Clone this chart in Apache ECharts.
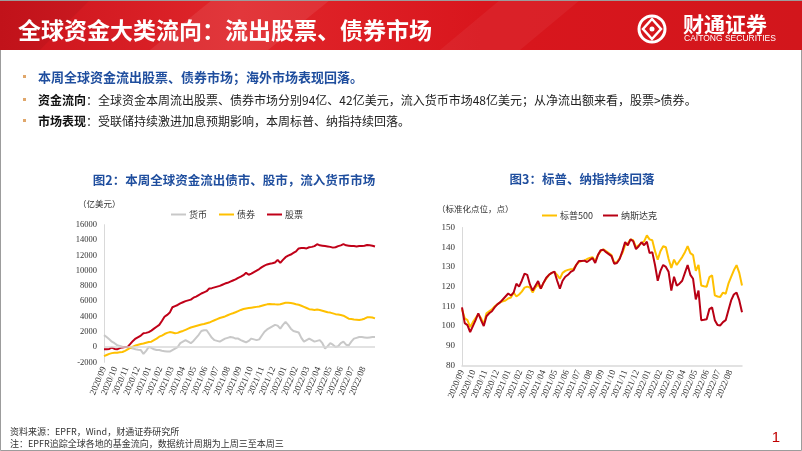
<!DOCTYPE html>
<html>
<head>
<meta charset="utf-8">
<script src="https://cdn.jsdelivr.net/npm/echarts@6/dist/echarts.min.js"></script>
<style>
html,body{margin:0;padding:0;background:#fff;}
#c{width:802px;height:451px;}
</style>
</head>
<body>
<div id="c"></div>
<script>
// ---------- data ----------
const months = ['2020/09','2020/10','2020/11','2020/12','2021/01','2021/02','2021/03','2021/04','2021/05','2021/06','2021/07','2021/08','2021/09','2021/10','2021/11','2021/12','2022/01','2022/02','2022/03','2022/04','2022/05','2022/06','2022/07','2022/08'];

// Figure 2: cumulative flows (亿美元), weekly
const flowNames = ['货币','债券','股票'];
const moneyFlow = [1560,1300,1000,700,500,250,150,50,0,-50,
-100,-200,-300,-350,-400,-900,-500,0,-100,-300,
-400,-400,-500,-550,-600,-600,-400,-200,0,500,
700,900,700,500,800,1200,1600,2100,2200,2200,
1700,1200,900,800,700,900,1100,1200,1300,1250,
1100,1100,900,750,600,800,1100,1000,900,1000,
1500,2000,2300,2500,2700,2900,2800,2400,2900,3300,
2900,2400,2100,2000,1900,1200,700,900,1100,900,
700,800,900,500,-200,100,500,300,0,100,
500,700,300,200,700,1100,1200,1300,1300,1250,
1200,1250,1300,1300];
const bondFlow = [-1200,-1050,-900,-800,-750,-750,-700,-650,-500,-300,
-100,50,200,300,400,450,550,650,700,900,
1100,1350,1500,1700,1850,1950,1900,1800,1850,2000,
2100,2250,2400,2550,2650,2750,2850,2950,3000,3100,
3200,3350,3500,3650,3800,3900,4000,4150,4300,4420,
4550,4700,4850,4970,5050,5100,5150,5200,5250,5300,
5400,5500,5580,5620,5600,5580,5570,5600,5700,5780,
5800,5750,5700,5600,5520,5400,5250,5100,4950,4900,
4850,4900,4840,4750,4650,4550,4500,4400,4300,4250,
4180,4100,3900,3700,3650,3600,3580,3530,3600,3700,
3880,3900,3850,3750];
const equityFlow = [-280,-300,-250,-80,-250,-300,-150,-50,0,20,
400,800,1100,1300,1500,1800,1850,1950,2150,2400,
2650,2900,3400,3950,4200,4500,5200,5350,5500,5700,
5850,6000,6100,6200,6450,6600,6800,7000,7150,7300,
7650,7700,7800,7900,8000,8150,8300,8400,8550,8700,
8850,9050,9200,9400,9700,9450,9600,9800,10000,10200,
10450,10650,10800,10900,10950,11050,11400,11000,11400,11750,
11950,12100,12300,12500,12900,12950,12950,12900,13050,13100,
13200,13450,13300,13250,13200,13150,13100,13000,13050,13200,
13300,13450,13300,13250,13200,13200,13150,13200,13200,13250,
13350,13300,13250,13150];
const flowTicks = [-2000,0,2000,4000,6000,8000,10000,12000,14000,16000];

// Figure 3: normalized index levels, weekly
const indexNames = ['标普500','纳斯达克'];
const spx = [108.5,104,103,99.5,102,104,106,104,101,106.5,
107.5,108.5,110,111,112,112.5,113,114,114.5,117,
115,116,117.5,119.5,120,119.6,117,119.5,121,119,
122,124,126,127,127.5,126,124,127,128,128.5,
128.8,129,131,132.5,133,133.2,134,134.5,135,133,
136,138,139,138,137,136,132,132.5,134.5,137,
141,142,144,143.5,140,141,142,143,146,144,
143.5,138,133.7,138,140.5,140,134,129.5,133.7,131,
133,135,137.5,140.5,137,136,128,131,120.6,120.2,
120,124.8,125.7,115.6,115,114.8,117,116.4,121.5,125,
128.3,130.9,127,120.6];
const ndx = [109.5,101.5,100.5,96.9,100,103,106.5,103,100,105,
106.5,107.5,109.5,111,112,113.5,115,116.5,115.5,117,
121.5,120,123,126.6,126,121,118,120.5,122.8,119,
122,124.5,126,127,127.6,123,119,123,125,126,
127.5,128.2,131,133,133,133.2,132.5,133.5,134.5,132,
136,138.5,138.7,137.5,136.5,135.5,131.6,132,134,138,
142.6,141,144,143,139,140.5,142.5,141,142.8,137,
137.5,131,123,128,131,130,127.5,118,125,120.5,
121.5,123,127,131,126,124,113.5,118,103,103.2,
103.5,108.6,109.5,103,100.5,100.3,102,103,108,113,
116,117,113,107];

// ---------- styles ----------
const CJK = "'Noto Sans CJK SC','Noto Sans',sans-serif";
const SERIF = "'Liberation Serif','DejaVu Serif',serif";
const BLUE = '#1F4E9E';
const C_GRAY = '#C8C8C8', C_YEL = '#FFC000', C_RED = '#C00018', C_RED2 = '#B80014';
const axisGray = '#D9D9D9';

const toXY = arr => arr.map((v, i) => [i, v]);
const monthCats = months.concat(['']);

function monthAxis(gridIndex, showLine) {
  return {
    type: 'category', gridIndex, data: monthCats, boundaryGap: false,
    position: 'bottom',
    axisLine: { show: showLine, onZero: false, lineStyle: { color: axisGray, width: 1.5 } },
    axisTick: { show: false },
    splitLine: { show: false },
    axisLabel: { interval: 0, rotate: 67, margin: 5, fontSize: 9, fontFamily: SERIF, color: '#333' }
  };
}
function weekAxis(gridIndex, n) {
  return {
    type: 'value', gridIndex, min: 0, max: n - 1, position: 'bottom', show: false,
    axisLine: { show: false, onZero: false }
  };
}
function valAxis(gridIndex, min, max, interval, fs) {
  return {
    type: 'value', gridIndex, min, max, interval,
    axisLine: { show: true, onZero: false, lineStyle: { color: axisGray, width: 1 } },
    axisTick: { show: false }, splitLine: { show: false },
    axisLabel: { margin: 7, fontSize: fs, fontFamily: SERIF, color: '#333', formatter: v => String(v),
      showMaxLabel: true, showMinLabel: true, hideOverlap: false }
  };
}
function lineSeries(name, data, color, xi, yi, z) {
  return {
    type: 'line', name, data: toXY(data), xAxisIndex: xi, yAxisIndex: yi,
    showSymbol: false, symbol: 'none', smooth: false, z,
    lineStyle: { color, width: 2 }, itemStyle: { color }, silent: true, animation: false
  };
}

const chart = echarts.init(document.getElementById('c'), null, { renderer: 'canvas' });

const graphics = [
  { type: 'rect', z: -20, shape: { x: 0.5, y: 0.5, width: 801, height: 450 }, style: { fill: '#fff', stroke: '#9C9C9C', lineWidth: 1 } },
  { type: 'rect', z: -19, shape: { x: 0, y: 0, width: 802, height: 50 },
    style: { fill: new echarts.graphic.LinearGradient(0, 0, 1, 0, [
      { offset: 0, color: '#CC141C' }, { offset: 0.3, color: '#E0262B' }, { offset: 0.6, color: '#D9161D' }, { offset: 1, color: '#D2161C' }]) } },
  { type: 'polygon', z: -18, shape: { points: [[150, 50], [212, 0], [330, 0], [268, 50]] }, style: { fill: 'rgba(255,255,255,0.08)' } },
  { type: 'polygon', z: -18, shape: { points: [[0, 50], [0, 0], [90, 0], [40, 50]] }, style: { fill: 'rgba(0,0,0,0.05)' } },
  { type: 'polygon', z: -18, shape: { points: [[440, 50], [500, 0], [580, 0], [520, 50]] }, style: { fill: 'rgba(255,255,255,0.05)' } },
  { type: 'line', z: -18, shape: { x1: 0, y1: 0.5, x2: 802, y2: 0.5 }, style: { stroke: '#9C9C9C', lineWidth: 1 } },
  { type: 'text', style: { x: 18, y: 30, text: '全球资金大类流向：流出股票、债券市场', fill: '#fff', fontSize: 23, fontWeight: 'bold', fontFamily: CJK, verticalAlign: 'middle' } },
  // logo
  { type: 'circle', shape: { cx: 652, cy: 29, r: 13 }, style: { fill: 'none', stroke: '#fff', lineWidth: 3 } },
  { type: 'polygon', shape: { points: [[652, 19], [661, 29], [652, 39], [643, 29]] }, style: { fill: 'none', stroke: '#fff', lineWidth: 2.5 } },
  { type: 'circle', shape: { cx: 652, cy: 29, r: 2.5 }, style: { fill: '#fff' } },
  { type: 'text', style: { x: 683, y: 24, text: '财通证券', fill: '#fff', fontSize: 21, fontWeight: 'bold', fontFamily: CJK, verticalAlign: 'middle' } },
  { type: 'text', style: { x: 684, y: 39, text: 'CAITONG SECURITIES', fill: '#fff', fontSize: 8.5, fontFamily: "'Liberation Sans',sans-serif", verticalAlign: 'middle' } },
  // bullets
  { type: 'rect', shape: { x: 23, y: 75, width: 3, height: 3 }, style: { fill: '#E0A76B' } },
  { type: 'rect', shape: { x: 23, y: 98, width: 3, height: 3 }, style: { fill: '#E0A76B' } },
  { type: 'rect', shape: { x: 23, y: 119, width: 3, height: 3 }, style: { fill: '#E0A76B' } },
  { type: 'text', style: { x: 38, y: 77, text: '本周全球资金流出股票、债券市场；海外市场表现回落。', fill: BLUE, fontSize: 13, fontWeight: 'bold', fontFamily: CJK, verticalAlign: 'middle' } },
  { type: 'text', style: { x: 38, y: 100, text: '{b|资金流向}{n|：全球资金本周流出股票、债券市场分别94亿、42亿美元，流入货币市场48亿美元；从净流出额来看，股票>债券。}', verticalAlign: 'middle',
      rich: { b: { fontSize: 12, fontWeight: 'bold', fill: '#111', fontFamily: CJK }, n: { fontSize: 12, fill: '#222', fontFamily: CJK } } } },
  { type: 'text', style: { x: 38, y: 121, text: '{b|市场表现}{n|：受联储持续激进加息预期影响，本周标普、纳指持续回落。}', verticalAlign: 'middle',
      rich: { b: { fontSize: 12, fontWeight: 'bold', fill: '#111', fontFamily: CJK }, n: { fontSize: 12, fill: '#222', fontFamily: CJK } } } },
  // chart titles
  { type: 'text', style: { x: 234, y: 180, text: '图2：本周全球资金流出债市、股市，流入货币市场', fill: BLUE, fontSize: 12.5, fontWeight: 'bold', fontFamily: CJK, align: 'center', verticalAlign: 'middle' } },
  { type: 'text', style: { x: 582, y: 179, text: '图3：标普、纳指持续回落', fill: BLUE, fontSize: 12.5, fontWeight: 'bold', fontFamily: CJK, align: 'center', verticalAlign: 'middle' } },
  { type: 'text', style: { x: 78, y: 204, text: '（亿美元）', fill: '#333', fontSize: 8.5, fontFamily: CJK, verticalAlign: 'middle' } },
  { type: 'text', style: { x: 437, y: 209, text: '（标准化点位，点）', fill: '#333', fontSize: 8.5, fontFamily: CJK, verticalAlign: 'middle' } },
  // footer
  { type: 'text', style: { x: 10, y: 432, text: '资料来源：EPFR，Wind，财通证券研究所', fill: '#333', fontSize: 9, fontFamily: CJK, verticalAlign: 'middle' } },
  { type: 'text', style: { x: 10, y: 444, text: '注：EPFR追踪全球各地的基金流向，数据统计周期为上周三至本周三', fill: '#333', fontSize: 9, fontFamily: CJK, verticalAlign: 'middle' } },
  { type: 'text', style: { x: 776, y: 438, text: '1', fill: '#C00000', fontSize: 15, fontFamily: "'Liberation Sans',sans-serif", align: 'center', verticalAlign: 'middle' } }
];

const zeroLine = {
  silent: true, symbol: 'none', label: { show: false },
  lineStyle: { color: axisGray, width: 1.5, type: 'solid' },
  data: [{ yAxis: 0 }]
};

const option = {
  animation: false,
  backgroundColor: 'transparent',
  graphic: { elements: graphics },
  legend: [
    { data: flowNames, left: 166, top: 205, itemWidth: 15, itemHeight: 2, itemGap: 12, icon: 'rect',
      textStyle: { fontSize: 9, color: '#333', fontFamily: CJK, padding: [0, 0, 0, -2] } },
    { data: indexNames, left: 537, top: 206, itemWidth: 15, itemHeight: 2, itemGap: 10, icon: 'rect',
      textStyle: { fontSize: 9, color: '#333', fontFamily: CJK, padding: [0, 0, 0, -2] } }
  ],
  grid: [
    { left: 104, top: 224.7, width: 271, height: 137.6, containLabel: false },
    { left: 462, top: 227.5, width: 280, height: 138, containLabel: false }
  ],
  xAxis: [
    monthAxis(0, false),
    weekAxis(0, equityFlow.length),
    monthAxis(1, true),
    weekAxis(1, spx.length)
  ],
  yAxis: [
    valAxis(0, flowTicks[0], flowTicks[flowTicks.length - 1], 2000, 8.5),
    valAxis(1, 80, 150, 10, 9)
  ],
  series: [
    Object.assign(lineSeries('货币', moneyFlow, C_GRAY, 1, 0, 2), { markLine: zeroLine }),
    lineSeries('债券', bondFlow, C_YEL, 1, 0, 3),
    lineSeries('股票', equityFlow, C_RED, 1, 0, 4),
    lineSeries('标普500', spx, C_YEL, 3, 1, 3),
    lineSeries('纳斯达克', ndx, C_RED2, 3, 1, 4)
  ]
};
chart.setOption(option);
</script>
</body>
</html>
